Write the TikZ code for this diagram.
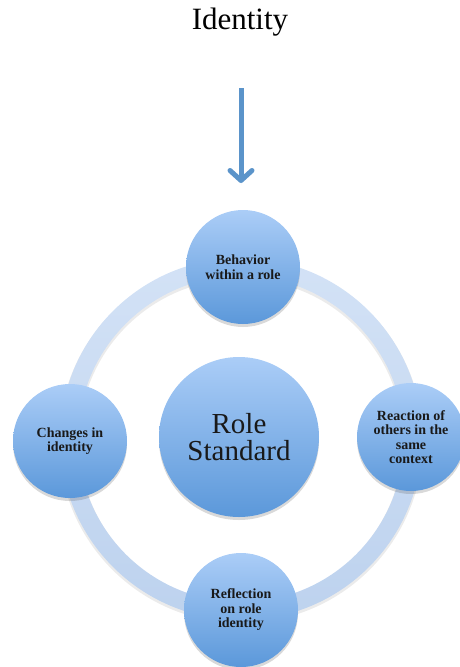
\documentclass[tikz,border=0pt]{standalone}
\usepackage{fontspec}
\setmainfont{Liberation Serif}
\usetikzlibrary{arrows.meta,shadows}
\definecolor{topc}{HTML}{ABCDF7}
\definecolor{botc}{HTML}{5B98DA}
\definecolor{ringtop}{HTML}{D3E2F6}
\definecolor{ringbot}{HTML}{BDD2EE}
\definecolor{arrc}{HTML}{5B94CA}
\tikzset{
  bubble/.style={circle, inner sep=0pt, top color=topc, bottom color=botc,
    drop shadow={shadow xshift=0pt, shadow yshift=-3pt, opacity=0.25, fill=black!60},
    align=center, font=\bfseries\fontsize{14}{14.5}\selectfont, text=black!90},
  small/.style={bubble, minimum size=114pt},
  big/.style={bubble, minimum size=160pt, font=\fontsize{29}{27}\selectfont}
}
\begin{document}
\begin{tikzpicture}[x=1pt,y=-1pt]
\useasboundingbox (0,0) rectangle (460,667);
\clip (0,0) rectangle (460,667);
\coordinate (c) at (241,439);
% ring shadow
\fill[black, opacity=0.08, even odd rule] (241,441) circle (182) (241,441) circle (162);
% ring
\shade[top color=ringtop, bottom color=ringbot, even odd rule]
  (c) circle (181) (c) circle (163);
\node[big] (rs) at (239,437) {Role\\Standard};
\node[small] (beh) at (243,267) {Behavior\\within a role};
\node[small] (chg) at (70,441) {Changes in\\identity};
\node[small, minimum size=108pt] (rea) at (411,437) {Reaction of\\others in the\\same\\context};
\node[small] (ref) at (241,610) {Reflection\\on role\\identity};
\node[font=\fontsize{31}{32}\selectfont] (id) at (240,22) {Identity};
\coordinate (a1) at (241,88);
\draw[arrc, line width=5pt, -{Straight Barb[length=10pt, width=22pt, round]},
  drop shadow={shadow xshift=0pt, shadow yshift=-2pt, opacity=0.2}] (a1) -- (241,183);
\end{tikzpicture}
\end{document}
